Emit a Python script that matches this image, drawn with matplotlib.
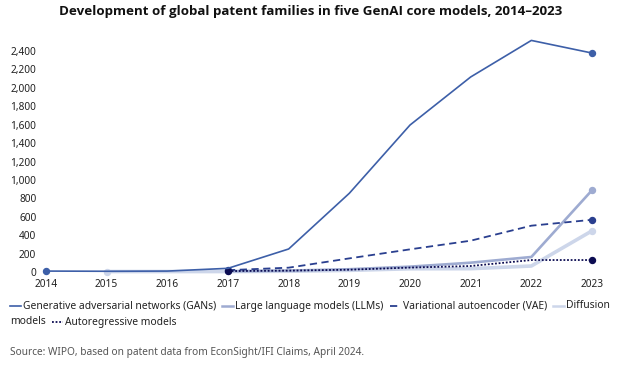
import matplotlib
matplotlib.use('Agg')
import matplotlib.pyplot as plt
import numpy as np
from matplotlib.lines import Line2D

plt.rcParams['font.family'] = ['Noto Sans', 'DejaVu Sans']

W, H = 622, 389

years = list(range(2014, 2024))
nan = np.nan

gans = [10, 8, 10, 40, 250, 855, 1596, 2118, 2515, 2378]
llms = [nan, nan, nan, 8, 15, 30, 58, 101, 163, 888]
vae = [nan, nan, nan, 20, 47, 148, 246, 340, 503, 567]
diffusion = [nan, 5, 5, 5, 8, 18, 35, 36, 65, 447]
autoregressive = [nan, nan, nan, 10, 15, 25, 48, 65, 130, 130]

# drawing order: bottom first
series = [
    ('Diffusion models', diffusion, '#cdd6ea', '-', 2.6),
    ('Large language models (LLMs)', llms, '#9eabd1', '-', 1.9),
    ('Variational autoencoder (VAE)', vae, '#2a3f8f', (0, (4, 2.5)), 1.3),
    ('Autoregressive models', autoregressive, '#0c0c52', (0, (1, 1)), 1.3),
    ('Generative adversarial networks (GANs)', gans, '#3d5fa8', '-', 1.2),
]
legend_order = [4, 1, 2, 0, 3]

fig = plt.figure(figsize=(W / 100, H / 100), dpi=100)
ax = fig.add_axes([46 / W, 1 - 272 / H, (592 - 46) / W, (272 - 32.6) / H])

for label, vals, color, ls, lw in series:
    y = np.array(vals, dtype=float)
    ax.plot(years, y, color=color, ls=ls, lw=lw, clip_on=False,
            solid_capstyle='butt')
    idx = np.where(~np.isnan(y))[0]
    ends = [idx[0], idx[-1]]
    ax.plot([years[i] for i in ends], [y[i] for i in ends], 'o',
            color=color, ms=4.3, clip_on=False)

ax.set_xlim(2014, 2023)
ax.set_ylim(0, 2600)
ax.set_xticks(years)
ax.set_yticks(range(0, 2401, 200))
ax.yaxis.set_major_formatter(matplotlib.ticker.StrMethodFormatter('{x:,.0f}'))
ax.tick_params(length=0, labelsize=7.3, colors='#222222')
ax.tick_params(axis='y', pad=7)
ax.tick_params(axis='x', pad=5)
for s in ax.spines.values():
    s.set_visible(False)

fig.text(0.5, 1 - 12 / H, 'Development of global patent families in five GenAI core models, 2014\u20132023',
         ha='center', va='center', fontsize=9.6, fontweight='bold', color='#111111',
         family=['Open Sans', 'DejaVu Sans'])

# legend laid out as wrapped text
renderer = fig.canvas.get_renderer()
fs = 7.4
x, row_y = 10, 306
row_h = 16
for k in legend_order:
    label, vals, color, ls, lw = series[k]
    fig.add_artist(Line2D([x / W, (x + 11) / W], [1 - row_y / H] * 2,
                          color=color, ls=ls, lw=min(lw, 1.8), transform=fig.transFigure))
    x += 13
    words = label.split(' ')
    chunk = []
    for w in words:
        trial = ' '.join(chunk + [w])
        t = fig.text(x / W, 1 - row_y / H, trial, fontsize=fs, va='center')
        width = t.get_window_extent(renderer).width
        t.remove()
        if x + width > W - 1 and chunk:
            fig.text(x / W, 1 - row_y / H, ' '.join(chunk), fontsize=fs, va='center', color='#222222')
            x, row_y = 10, row_y + row_h
            chunk = [w]
        else:
            chunk.append(w)
    t = fig.text(x / W, 1 - row_y / H, ' '.join(chunk), fontsize=fs, va='center', color='#222222')
    x += t.get_window_extent(renderer).width + 6

fig.text(10 / W, 1 - 353 / H, 'Source: WIPO, based on patent data from EconSight/IFI Claims, April 2024.',
         fontsize=7.3, va='center', color='#555555')

fig.savefig('out.png', dpi=100)
